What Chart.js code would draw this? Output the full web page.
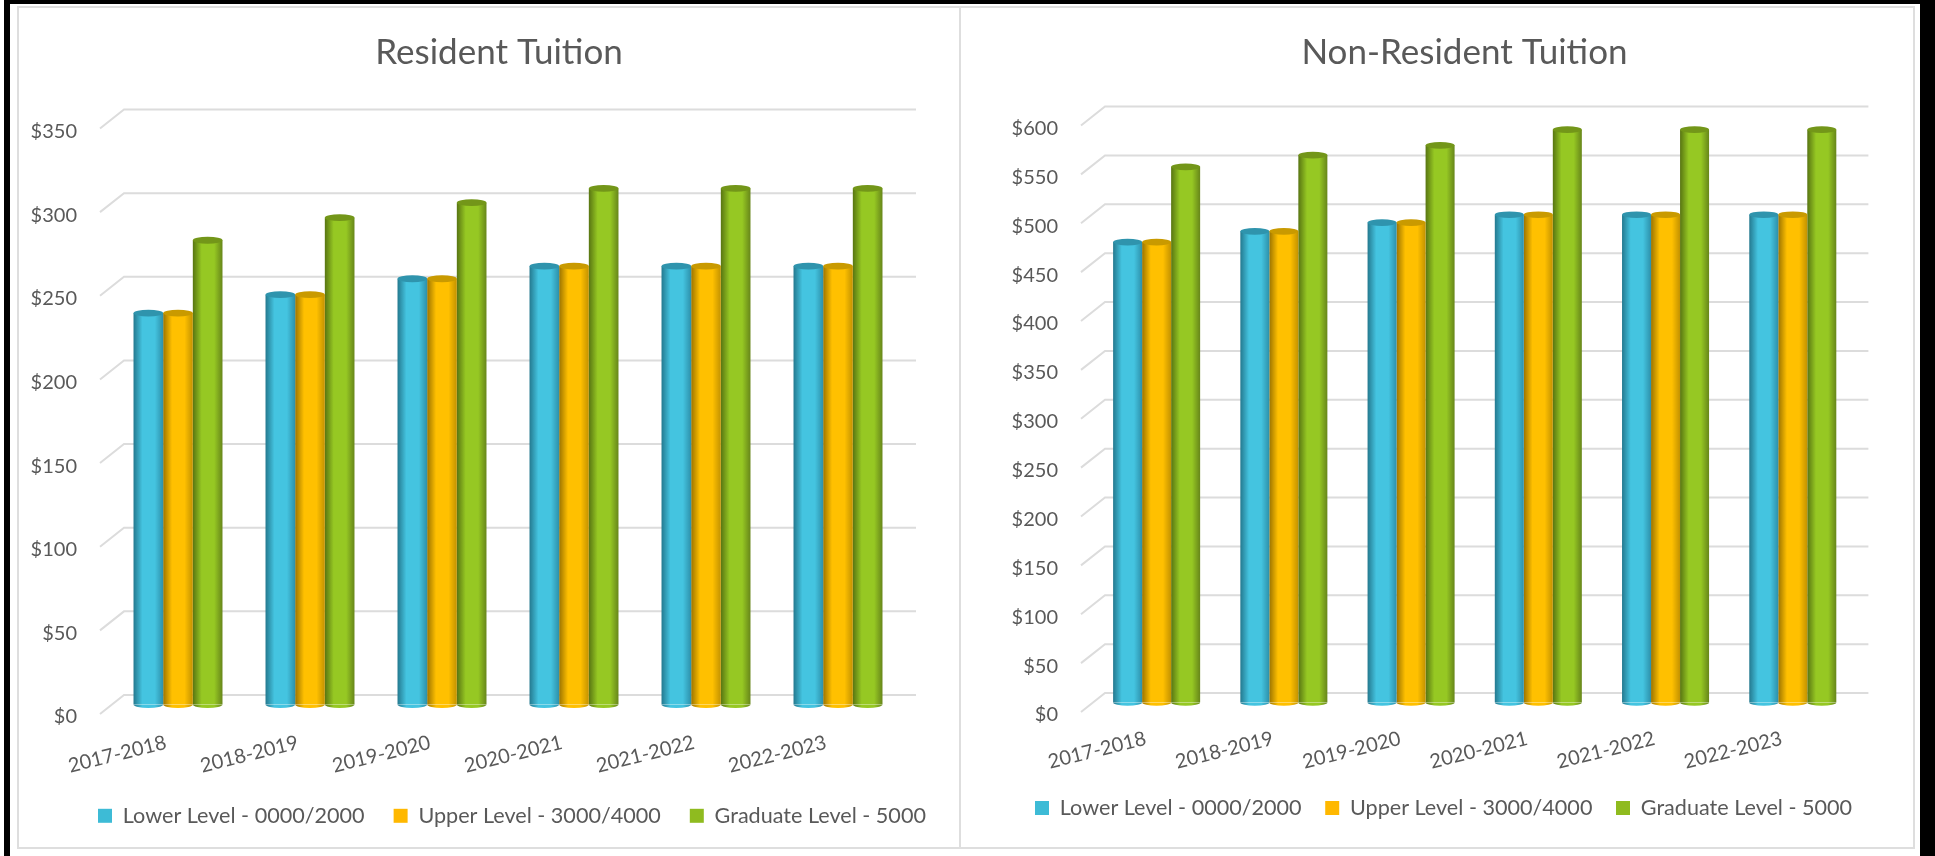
<!DOCTYPE html>
<html lang="en">
<head>
<meta charset="UTF-8">
<title>Resident and Non-Resident Tuition</title>
<script src="https://cdn.jsdelivr.net/npm/chart.js"></script>
<style>
    html, body { margin: 0; padding: 0; background: #fff; overflow: hidden; width: 1935px; height: 856px; }
    .frame { position: absolute; background: #000; }
    .panel { position: absolute; box-sizing: border-box; border: 2px solid #dedede; }
    .holder { position: absolute; }
    canvas { display: block; }
</style>
</head>
<body>
    <div class="frame" style="left:4px;top:0;width:1931px;height:4px"></div>
    <div class="frame" style="left:4px;top:0;width:6px;height:856px"></div>
    <div class="frame" style="left:1920px;top:0;width:15px;height:856px"></div>
    <div class="panel" style="left:17px;top:6px;width:944px;height:843px"></div>
    <div class="panel" style="left:959px;top:6px;width:956px;height:843px"></div>

    <div class="holder" style="left:18px;top:7px;width:962px;height:880px"><canvas id="residentChart"></canvas></div>
    <div class="holder" style="left:1002px;top:7px;width:925px;height:880px"><canvas id="nonResidentChart"></canvas></div>

<script>
    const years = ['2017-2018', '2018-2019', '2019-2020', '2020-2021', '2021-2022', '2022-2023'];
    const seriesNames = ['Lower Level - 0000/2000', 'Upper Level - 3000/4000', 'Graduate Level - 5000'];

    const residentLower = [234, 245, 254.5, 262, 262, 262];
    const residentUpper = [234, 245, 254.5, 262, 262, 262];
    const residentGraduate = [277.5, 291, 300, 308.5, 308.5, 308.5];
    const residentTickStep = 50;
    const residentMax = 350;

    const nonResidentLower = [471, 482, 491, 499, 499, 499];
    const nonResidentUpper = [471, 482, 491, 499, 499, 499];
    const nonResidentGraduate = [548, 560, 570, 586, 586, 586];
    const nonResidentTickStep = 50;
    const nonResidentMax = 600;

    // flat = legend, edge/mid = cylinder shading, top = cap
    const colors = [
        { flat: '#3dbbd6', edgeL: '#24798f', mid: '#44c4e0', edgeR: '#2d90aa', top: '#2f94ad' },
        { flat: '#ffb800', edgeL: '#9c7400', mid: '#ffc000', edgeR: '#c39200', top: '#c99a00' },
        { flat: '#8fbb1f', edgeL: '#587512', mid: '#96c823', edgeR: '#67861a', top: '#739619' }
    ];
    const textColor = '#595959';
    const gridColor = '#dcdcdc';
    const fontName = 'Lato, sans-serif';
    const legendFont = 21.6;

    // gridlines live on the back wall, bars sit half way between front and back
    const depthX = 12, depthY = 9.5;
    const capRatio = 0.115;

    function cylinder(ctx2d, left, w, s) {
        const c = colors[s];
        const g = ctx2d.createLinearGradient(left, 0, left + w, 0);
        g.addColorStop(0, c.edgeL);
        g.addColorStop(0.3, c.mid);
        g.addColorStop(0.72, c.mid);
        g.addColorStop(1, c.edgeR);
        return g;
    }

    function barFill(ctx, s, catPct) {
        const chart = ctx.chart;
        if (ctx.type !== 'data' || !chart.chartArea || !chart.scales.x) return colors[s].flat;
        const catW = chart.chartArea.width / years.length;
        const w = catW * catPct / 3;
        const left = chart.scales.x.getPixelForValue(ctx.dataIndex) - 1.5 * w + ctx.datasetIndex * w;
        return cylinder(chart.ctx, left, w, s);
    }

    const wall3d = {
        id: 'wall3d',
        beforeDatasetsDraw(chart) {
            const { ctx, chartArea, scales } = chart;
            ctx.save();
            ctx.strokeStyle = gridColor;
            ctx.lineWidth = 2;
            scales.y.ticks.forEach(t => {
                const y = scales.y.getPixelForValue(t.value);
                ctx.beginPath();
                ctx.moveTo(chartArea.left - depthX, y + depthY);
                ctx.lineTo(chartArea.left + depthX, y - depthY);
                ctx.lineTo(chartArea.right + depthX, y - depthY);
                ctx.stroke();
            });
            ctx.restore();
        },
        afterDatasetsDraw(chart) {
            const ctx = chart.ctx;
            chart.data.datasets.forEach((ds, s) => {
                chart.getDatasetMeta(s).data.forEach(bar => {
                    const rx = bar.width / 2, ry = bar.width * capRatio;
                    ctx.fillStyle = cylinder(ctx, bar.x - rx, bar.width, s);
                    ctx.beginPath();
                    ctx.ellipse(bar.x, bar.base, rx, ry, 0, 0, Math.PI);
                    ctx.fill();
                    ctx.fillStyle = colors[s].top;
                    ctx.beginPath();
                    ctx.ellipse(bar.x, bar.y, rx, ry, 0, 0, Math.PI * 2);
                    ctx.fill();
                });
            });
        }
    };

    function makeChart(id, s) {
        // legend sits off-centre in the original, nudge it after the layout pass
        const legendNudge = {
            id: 'legendNudge',
            afterLayout(chart) {
                const l = chart.legend;
                l.left += s.legendShift;
                l.right += s.legendShift;
                l.top = s.legendTop;
            }
        };
        new Chart(document.getElementById(id), {
            type: 'bar',
            plugins: [wall3d, legendNudge],
            data: {
                labels: years,
                datasets: s.values.map((v, i) => ({
                    label: seriesNames[i],
                    data: v,
                    borderWidth: 0,
                    barPercentage: 1,
                    categoryPercentage: s.catPct,
                    backgroundColor: ctx => barFill(ctx, i, s.catPct)
                }))
            },
            options: {
                responsive: true,
                maintainAspectRatio: false,
                animation: false,
                layout: { padding: { left: 0, right: 0, top: 0, bottom: 5 } },
                plugins: {
                    tooltip: { enabled: false },
                    title: {
                        display: true,
                        text: s.title,
                        color: textColor,
                        font: { family: fontName, size: 35, weight: '400', lineHeight: 1.2 },
                        padding: { top: 24.5, bottom: s.titleGap }
                    },
                    legend: {
                        position: 'bottom',
                        align: 'start',
                        labels: {
                            color: textColor,
                            boxWidth: 14,
                            boxHeight: 14,
                            padding: s.legendGap,
                            font: { family: fontName, size: legendFont },
                            generateLabels(chart) {
                                const items = Chart.defaults.plugins.legend.labels.generateLabels(chart);
                                items.forEach((it, i) => { it.fillStyle = colors[i].flat; it.strokeStyle = colors[i].flat; });
                                return items;
                            }
                        }
                    }
                },
                scales: {
                    x: {
                        grid: { display: false, drawTicks: false },
                        border: { display: false },
                        afterFit(scale) {
                            // keep the plot floor where it belongs whatever the legend measures
                            const c = scale.chart;
                            scale.height = c.height - 5 - c.legend.height - s.floor;
                        },
                        ticks: {
                            color: textColor,
                            font: { family: fontName, size: 20 },
                            maxRotation: 14,
                            minRotation: 14,
                            padding: s.xPad,
                            labelOffset: s.xLabelOffset
                        }
                    },
                    y: {
                        min: 0,
                        max: s.max,
                        grid: { display: false, drawTicks: false },
                        border: { display: false },
                        afterFit(scale) { scale.width = s.axisWidth; },
                        ticks: {
                            stepSize: s.step,
                            color: textColor,
                            font: { family: fontName, size: 20 },
                            padding: s.yPad,
                            labelOffset: 12.5,
                            callback: v => '$' + v
                        }
                    },
                    // empty axis, only holds the margin right of the plot
                    margin: {
                        position: 'right',
                        grid: { display: false, drawTicks: false },
                        border: { display: false },
                        ticks: { display: false },
                        afterFit(scale) { scale.width = s.rightMargin; }
                    }
                }
            }
        });
    }

    makeChart('residentChart', {
        title: 'Resident Tuition',
        values: [residentLower, residentUpper, residentGraduate],
        max: residentMax, step: residentTickStep,
        catPct: 0.674,
        rightMargin: 76, axisWidth: 94, yPad: 35,
        titleGap: 45.5, floor: 697.5,
        legendGap: 29, legendShift: 51, legendTop: 769, xLabelOffset: -12, xPad: 26
    });
    makeChart('nonResidentChart', {
        title: 'Non-Resident Tuition',
        values: [nonResidentLower, nonResidentUpper, nonResidentGraduate],
        max: nonResidentMax, step: nonResidentTickStep,
        catPct: 0.684,
        rightMargin: 70.6, axisWidth: 91, yPad: 35,
        titleGap: 42.5, floor: 695.5,
        legendGap: 23.6, legendShift: 9.4, legendTop: 766.6, xLabelOffset: -11, xPad: 24
    });
</script>
</body>
</html>
